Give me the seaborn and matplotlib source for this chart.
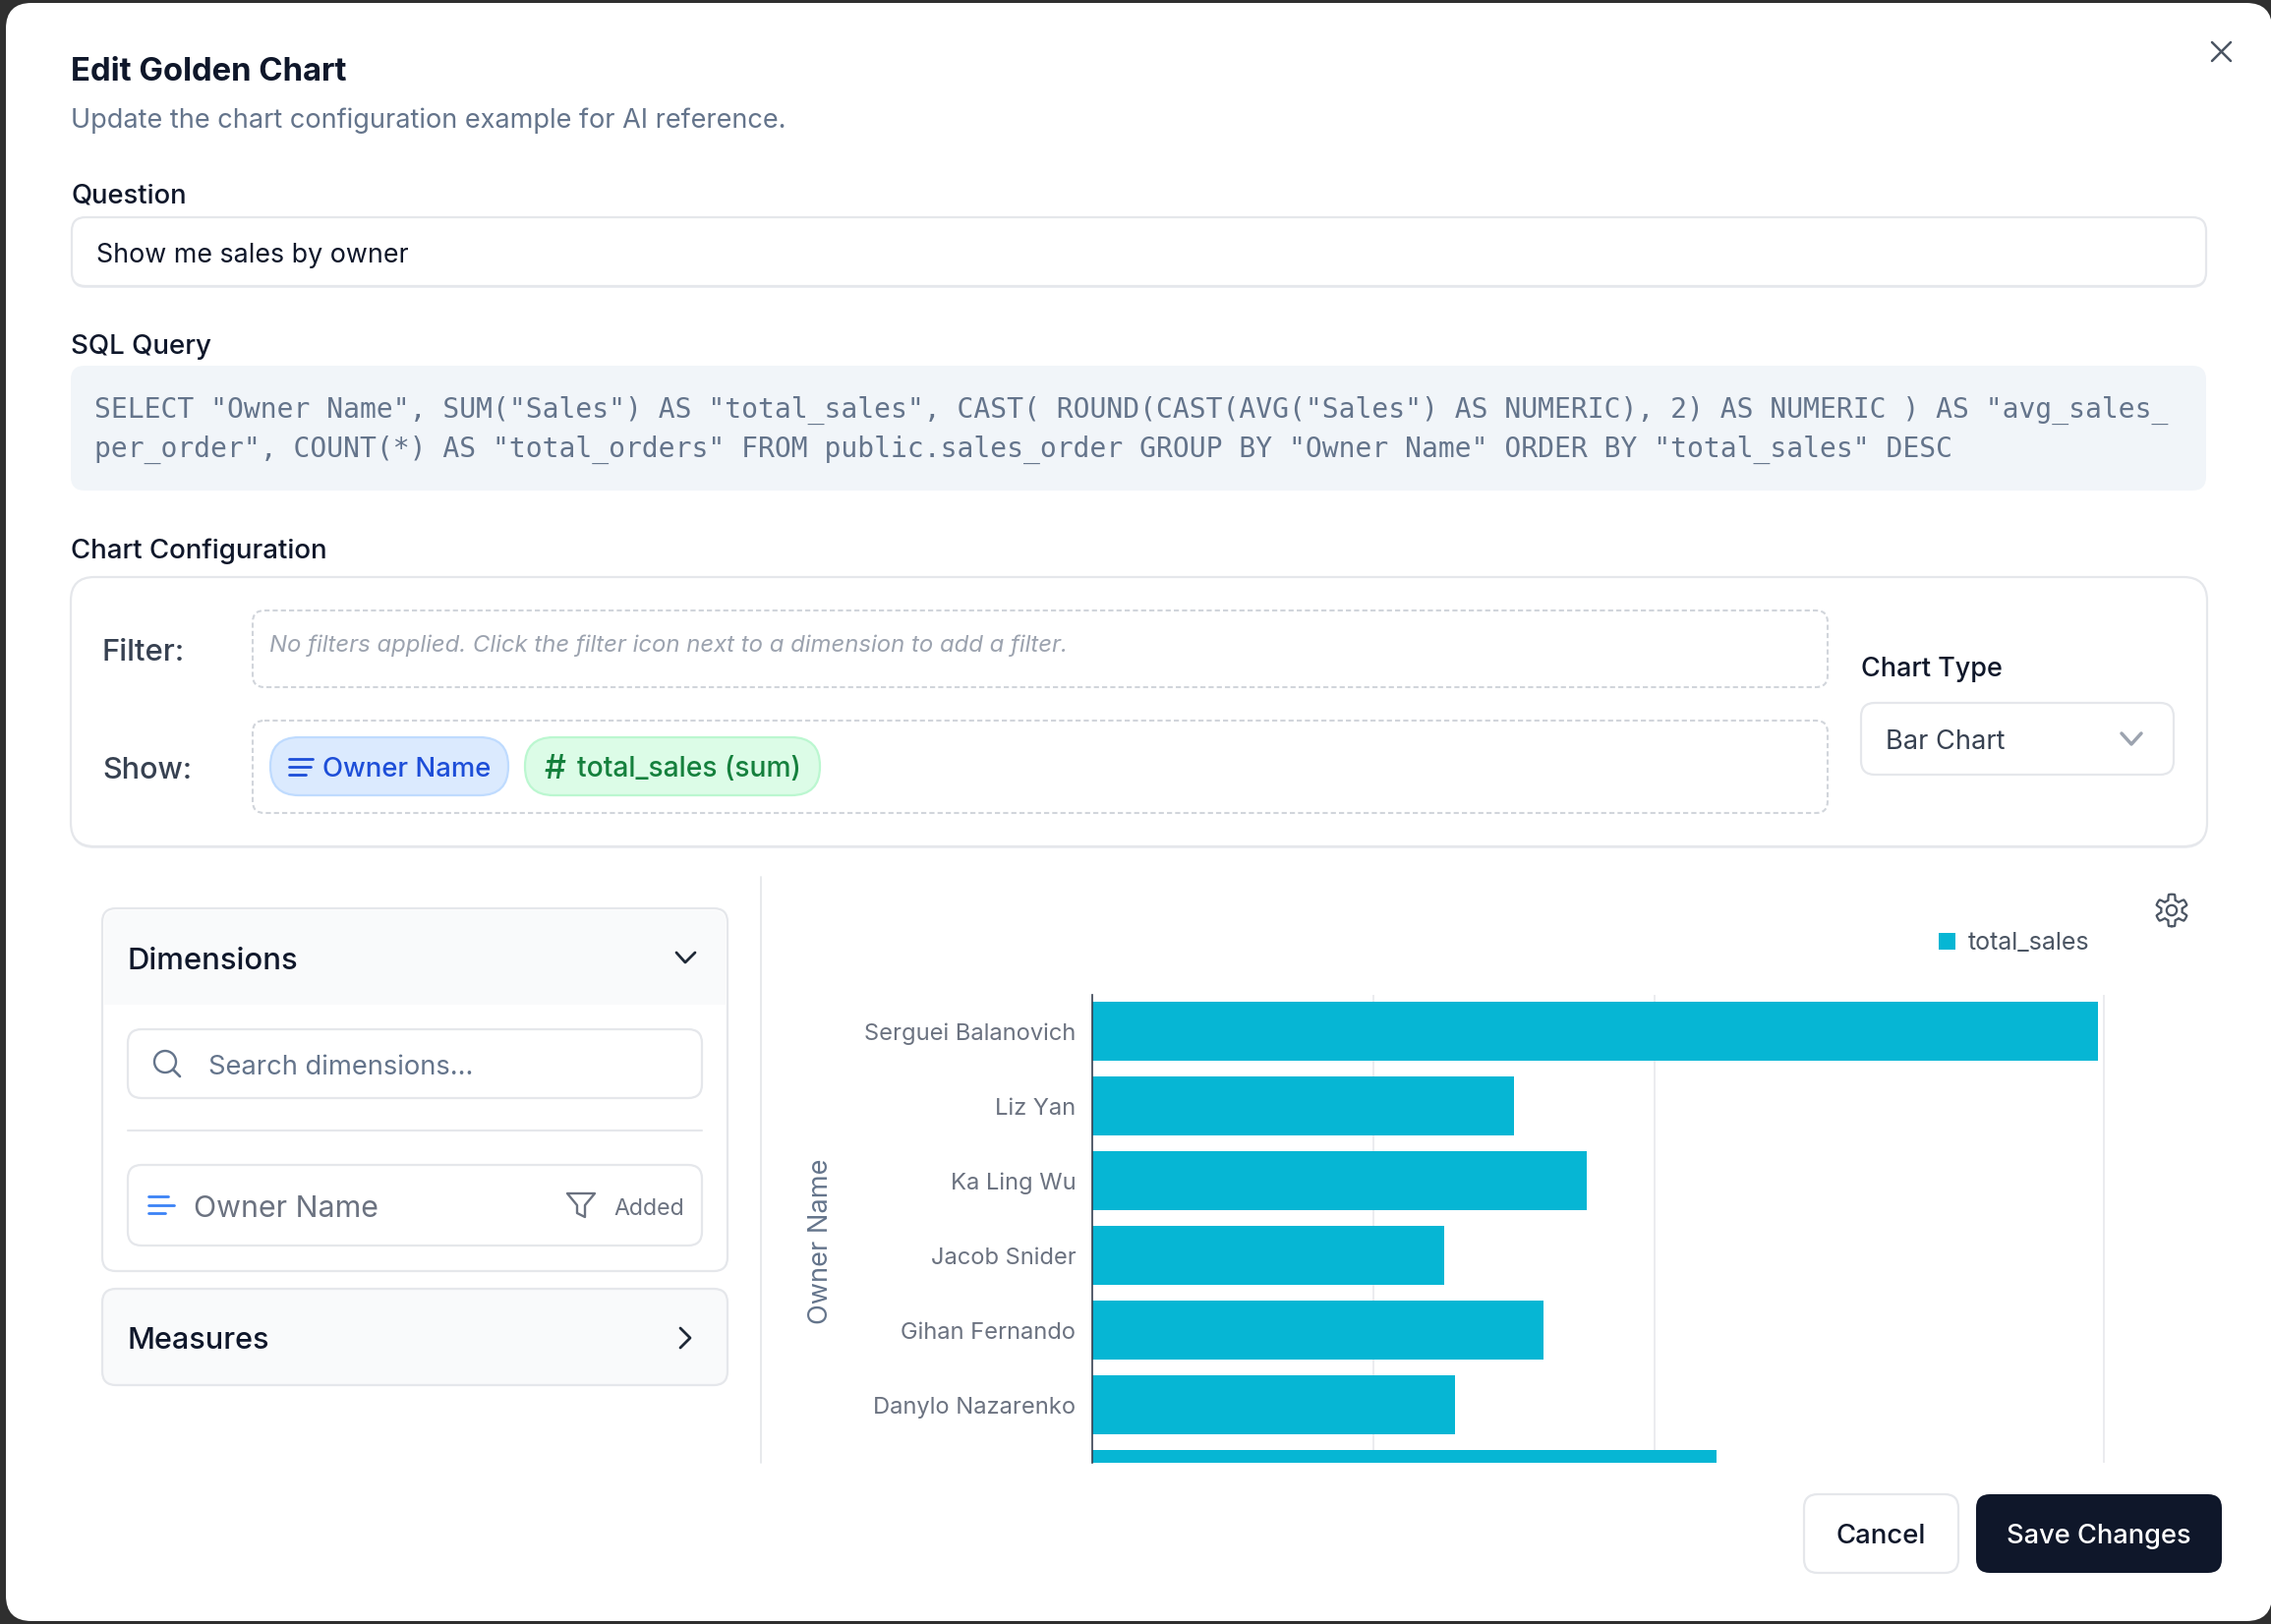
import numpy as np
import pandas as pd
import matplotlib
matplotlib.use("Agg")
import matplotlib.pyplot as plt
from matplotlib.patches import FancyBboxPatch, Circle, Polygon
import seaborn as sns

# ─── Data ─────────────────────────────────────────────────────────────────────
OWNERS = ["Serguei Balanovich", "Liz Yan", "Ka Ling Wu", "Jacob Snider",
          "Gihan Fernando", "Danylo Nazarenko", "(cut off)"]
TOTAL_SALES = [1788000, 750000, 879000, 626000, 802000, 645000, 1110000]
GRID_TICKS = [500000, 1000000, 1800000]

SQL_LINE_1 = ('SELECT "Owner Name", SUM("Sales") AS "total_sales", CAST( ROUND(CAST(AVG("Sales") '
              'AS NUMERIC), 2) AS NUMERIC ) AS "avg_sales_')
SQL_LINE_2 = ('per_order", COUNT(*) AS "total_orders" FROM public.sales_order GROUP BY "Owner Name" '
              'ORDER BY "total_sales" DESC')

# ─── Config ───────────────────────────────────────────────────────────────────
W, H = 2310, 1652
BAR_COLOR = "#06b6d4"
BORDER = "#e5e7eb"
DARK = "#0f172a"
SLATE = "#64748b"
GRAY = "#6b7280"

sns.set_style("white")
plt.rcParams["font.family"] = ["Inter", "DejaVu Sans"]

fig = plt.figure(figsize=(W / 100, H / 100), dpi=100, facecolor="#2f2f2f")

# Page layer, drawn in image pixels
bg = fig.add_axes([0, 0, 1, 1])
bg.set_xlim(0, W)
bg.set_ylim(H, 0)
bg.axis("off")
renderer = fig.canvas.get_renderer()


def box(x0, y0, x1, y1, r=14, fc="white", ec=BORDER, lw=1.6, ls="-", z=2, shadow=False):
    if shadow:
        bg.add_patch(FancyBboxPatch((x0, y0 + 2), x1 - x0, y1 - y0,
                                    boxstyle=f"round,pad=0,rounding_size={r}",
                                    fc="#eceef2", ec="none", lw=0, zorder=z - 0.1))
    p = FancyBboxPatch((x0, y0), x1 - x0, y1 - y0, boxstyle=f"round,pad=0,rounding_size={r}",
                       fc=fc, ec=ec, lw=lw, ls=ls, zorder=z)
    bg.add_patch(p)
    return p


def label(x, y, s, size=16, width=None, color=DARK, weight=400, ha="left", **kw):
    t = bg.text(x, y, s, fontsize=size, color=color, fontweight=weight, ha=ha,
                va="center_baseline", zorder=5, **kw)
    if width is not None:
        # shrink or grow to the width measured on the reference
        t.set_fontsize(size * width / t.get_window_extent(renderer).width)
    return t


def stroke(xs, ys, color, lw=2.0):
    bg.plot(xs, ys, color=color, lw=lw, solid_capstyle="round", solid_joinstyle="round", zorder=5)


# ─── Modal ────────────────────────────────────────────────────────────────────
box(6, 3, W + 1, 1649, r=26, ec="none", lw=0, z=1)

label(72, 70, "Edit Golden Chart", 24, width=282, weight=700)
label(72, 120, "Update the chart configuration example for AI reference.", 18, width=724, color=SLATE)
stroke([2250, 2269], [43, 62], "#4b5563", 1.8)
stroke([2269, 2250], [43, 62], "#4b5563", 1.8)

label(72, 197, "Question", 17, width=118, weight=500)
box(73, 221, 2244, 291, shadow=True)
label(98, 257, "Show me sales by owner", 19, width=317)

label(72, 350, "SQL Query", 17, width=143, weight=500)
box(72, 372, 2244, 499, fc="#f1f5f9", ec="none", lw=0)
label(96, 414, SQL_LINE_1, 19, width=2106, color=SLATE, family="DejaVu Sans Mono")
label(96, 454, SQL_LINE_2, 19, width=1885, color=SLATE, family="DejaVu Sans Mono")

# ─── Chart configuration card ─────────────────────────────────────────────────
label(72, 558, "Chart Configuration", 17, width=261, weight=500)
box(72, 587, 2245, 861, r=24, shadow=True)

label(104, 661, "Filter:", 18, width=84, color="#374151", weight=500)
label(104, 781, "Show:", 18, width=91, color="#374151", weight=500)
box(257, 621, 1859, 699, r=12, ec="#d1d5db", lw=1.5, ls=(0, (2.5, 1.5)))
box(257, 733, 1859, 827, r=12, ec="#d1d5db", lw=1.5, ls=(0, (2.5, 1.5)))
label(274, 654, "No filters applied. Click the filter icon next to a dimension to add a filter.",
      15, width=813, color="#9ca3af", style="italic")

box(275, 750, 517, 809, r=29, fc="#dbeafe", ec="#bfdbfe")
stroke([294, 318], [772, 772], "#1d4ed8")
stroke([294, 316], [780, 780], "#1d4ed8")
stroke([294, 311], [788, 788], "#1d4ed8")
label(328, 780, "Owner Name", 19, width=171, color="#1d4ed8", weight=500)

box(534, 750, 834, 809, r=29, fc="#dcfce7", ec="#bbf7d0")
label(554, 780, "#", 19, width=22, color="#15803d", weight=500)
label(587, 780, "total_sales (sum)", 19, width=228, color="#15803d", weight=500)

label(1893, 678, "Chart Type", 17, width=144, weight=500)
box(1893, 715, 2211, 788, shadow=True)
label(1918, 752, "Bar Chart", 18, width=121, color="#374151")
stroke([2158, 2168, 2178], [746, 757, 746], "#9ca3af", 2.5)

# ─── Field picker ─────────────────────────────────────────────────────────────
box(104, 924, 740, 1293)
box(106, 926, 738, 1022, r=12, fc="#f9fafb", ec="none", lw=0, z=2.1)
bg.fill_between([106, 738], 1000, 1022, color="#f9fafb", lw=0, zorder=2.2)
label(130, 975, "Dimensions", 20, width=173, weight=500)
stroke([688, 697, 707], [969, 979, 969], "#1f2937")

box(130, 1047, 714, 1117, shadow=True)
bg.add_patch(Circle((168, 1080), 11, fc="none", ec=SLATE, lw=1.7, zorder=5))
stroke([176, 183], [1088, 1095], SLATE, 1.9)
label(212, 1083, "Search dimensions...", 19, width=269, color=SLATE)
stroke([130, 714], [1150, 1150], BORDER, 1.5)

box(130, 1185, 714, 1267)
stroke([151, 171], [1217, 1217], "#3b82f6")
stroke([151, 177], [1226, 1226], "#3b82f6")
stroke([151, 168], [1234, 1234], "#3b82f6")
label(197, 1227, "Owner Name", 20, width=188, color=GRAY)
bg.add_patch(Polygon([(577, 1214), (605, 1214), (595, 1226), (595, 1238), (587, 1234), (587, 1226)],
                     closed=True, fc="none", ec=GRAY, lw=1.7, joinstyle="round", zorder=5))
label(624, 1227, "Added", 16, width=72, color=GRAY)

box(104, 1311, 740, 1409, fc="#f9fafb")
label(130, 1361, "Measures", 20, width=144, weight=500)
stroke([692, 702, 692], [1351, 1361, 1371], "#1f2937")

stroke([774, 774], [892, 1488], BORDER, 1.3)

# ─── Chart ────────────────────────────────────────────────────────────────────
AX_L, AX_R, AX_T, AX_B = 1111, 2145, 1012, 1488
ax = fig.add_axes([AX_L / W, (H - AX_B) / H, (AX_R - AX_L) / W, (AX_B - AX_T) / H], facecolor="none")

df = pd.DataFrame({"owner": OWNERS, "total_sales": TOTAL_SALES})
sns.barplot(data=df, x="total_sales", y="owner", color=BAR_COLOR, saturation=1, width=0.79,
            linewidth=0, label="total_sales", ax=ax)

ax.set_xlim(0, 1808000)
ax.set_ylim(5.77, -0.493)
ax.set_xticks(GRID_TICKS)
ax.set_xticklabels([])
ax.set_xlabel("")
ax.set_axisbelow(True)
ax.xaxis.grid(True, color=BORDER, lw=1.1)
ax.yaxis.grid(False)
ax.tick_params(axis="both", length=0)
ax.tick_params(axis="y", pad=12, labelsize=17.05, labelcolor=GRAY)
for side in ("top", "right", "bottom"):
    ax.spines[side].set_visible(False)
ax.spines["left"].set_color("#374151")
ax.spines["left"].set_linewidth(1.2)
ax.set_ylabel("Owner Name", fontsize=19.6, color=SLATE, va="center")
ax.yaxis.set_label_coords((835 - AX_L) / (AX_R - AX_L), (AX_B - 1263) / (AX_B - AX_T))

leg = ax.legend(loc="center right", bbox_to_anchor=(2125 / W, (H - 960) / H),
                bbox_transform=fig.transFigure, frameon=False, fontsize=18, borderpad=0,
                borderaxespad=0, handlelength=0.68, handleheight=0.68, handletextpad=0.5)
for t in leg.get_texts():
    t.set_color("#4b5563")

# Gear icon above the plot
theta = np.linspace(0, 2 * np.pi, 241)
gear_r = 13.5 + 2.8 * np.clip(np.cos(6 * theta) * 2.5, -1, 1)
stroke(2209 + gear_r * np.sin(theta), 926 + gear_r * np.cos(theta), "#4b5563", 1.6)
bg.add_patch(Circle((2209, 926), 5.2, fc="none", ec="#4b5563", lw=1.6, zorder=5))

# ─── Buttons ──────────────────────────────────────────────────────────────────
box(1835, 1520, 1992, 1600)
label(1913, 1560, "Cancel", 18, width=91, weight=500, ha="center")
box(2010, 1520, 2260, 1600, fc=DARK, ec="none", lw=0)
label(2135, 1560, "Save Changes", 18, width=187, color="white", weight=500, ha="center")

fig.savefig("out.png", dpi=100, facecolor=fig.get_facecolor())
